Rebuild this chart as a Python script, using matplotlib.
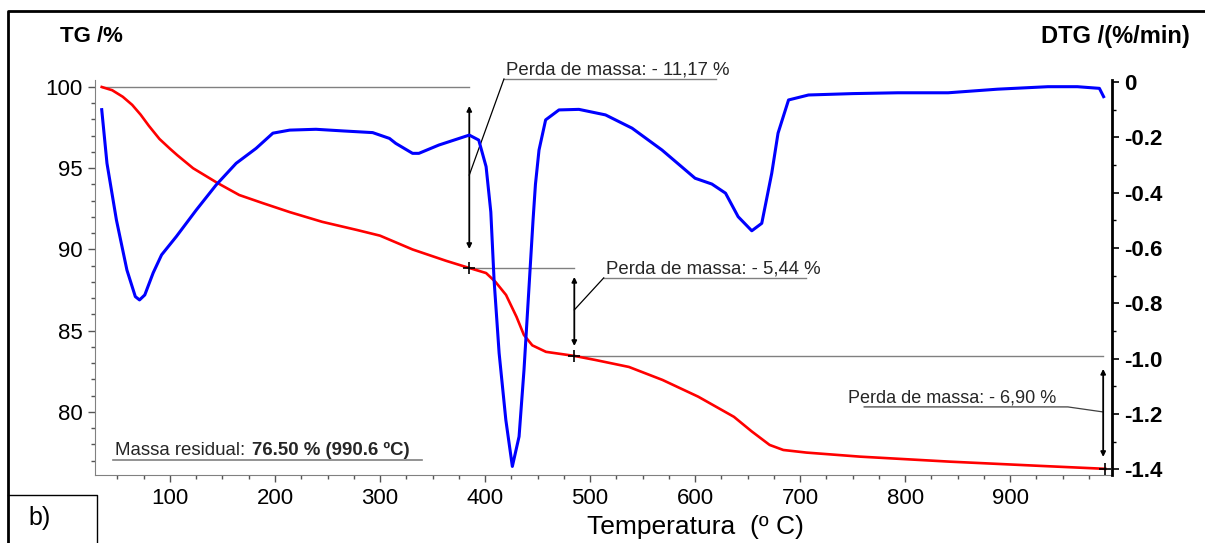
import numpy as np
import matplotlib
matplotlib.use("Agg")
from matplotlib import pyplot as plt
from matplotlib.lines import Line2D
from matplotlib.ticker import MultipleLocator, FuncFormatter

# TG curve (mass %, left axis)
tg_temp = [35, 45, 55, 64, 72, 80, 90, 100, 107, 122, 145, 166, 188, 214, 245, 278,
           300, 331, 363, 385, 401, 410, 420, 430, 437, 445, 458, 485, 505, 537,
           569, 603, 637, 654, 671, 684, 706, 757, 843, 929, 990.6]
tg_mass = [100.0, 99.8, 99.4, 98.9, 98.3, 97.6, 96.8, 96.2, 95.8, 95.0, 94.1, 93.35,
           92.86, 92.3, 91.7, 91.2, 90.85, 90.0, 89.3, 88.86, 88.55, 88.0, 87.2,
           85.85, 84.74, 84.1, 83.7, 83.45, 83.2, 82.77, 81.97, 80.94, 79.7, 78.8,
           77.97, 77.66, 77.5, 77.25, 76.94, 76.68, 76.50]

# DTG curve (%/min, right axis)
dtg_temp = [35, 40, 49, 59, 67, 71, 76, 84, 92, 106, 125, 144, 163, 182, 198, 214,
            239, 265, 293, 309, 315, 331, 337, 356, 385, 394, 401, 405.5, 408.6,
            413.4, 419.8, 426, 432.4, 437.1, 441.9, 445.7, 448, 451.4, 457.7, 470.4,
            489.4, 514.7, 540, 568.5, 600, 616, 629, 641, 654, 663.5, 673, 679, 689,
            708, 750, 793, 841, 888, 936, 964, 985, 989]
dtg_rate = [-0.10, -0.294, -0.499, -0.68, -0.776, -0.788, -0.77, -0.69, -0.625,
            -0.559, -0.463, -0.372, -0.294, -0.24, -0.185, -0.174, -0.171, -0.177,
            -0.183, -0.204, -0.222, -0.258, -0.258, -0.228, -0.192, -0.21, -0.306,
            -0.47, -0.716, -0.98, -1.222, -1.39, -1.282, -1.041, -0.74, -0.5, -0.37,
            -0.246, -0.137, -0.101, -0.099, -0.119, -0.167, -0.246, -0.348, -0.369,
            -0.402, -0.487, -0.538, -0.511, -0.33, -0.185, -0.065, -0.047, -0.042,
            -0.039, -0.039, -0.026, -0.017, -0.017, -0.023, -0.053]

# mass loss steps: temperatures bounding each step and labels
step_temps = [385, 485, 990.6]
step_labels = ['Perda de massa: - 11,17 %', 'Perda de massa: - 5,44 %', 'Perda de massa: - 6,90 %']

plt.rcParams['font.family'] = ['Liberation Sans', 'DejaVu Sans']
plt.rcParams['axes.unicode_minus'] = False

fig = plt.figure(figsize=(12.05, 5.43), dpi=100)
ax = fig.add_axes([95 / 1205, 1 - 475 / 543, (1112 - 95) / 1205, (475 - 80) / 543])
ax2 = ax.twinx()

ax.plot(tg_temp, tg_mass, color='#ff0000', lw=1.9, zorder=3)
ax2.plot(dtg_temp, dtg_rate, color='#0000ff', lw=2.2, zorder=3)

ax.set_xlim(28.6, 997)
ax.set_ylim(76.12, 100.43)
ax2.set_ylim(-1.421, 0.0072)

# axes styling
ax.spines['top'].set_visible(False)
ax2.spines['top'].set_visible(False)
ax.spines['left'].set_color('#808080')
ax.spines['bottom'].set_color('#808080')
ax.spines['right'].set_visible(False)
ax2.spines['left'].set_visible(False)
ax2.spines['bottom'].set_visible(False)
ax2.spines['right'].set_linewidth(2)
ax2.spines['right'].set_color('black')

ax.xaxis.set_minor_locator(MultipleLocator(25))
ax.set_xticks(np.arange(100, 1000, 100))
ax.yaxis.set_minor_locator(MultipleLocator(1))
ax.set_yticks([80, 85, 90, 95, 100])
ax2.yaxis.set_minor_locator(MultipleLocator(0.1))
ax2.set_yticks(np.arange(-1.4, 0.01, 0.2))
ax2.yaxis.set_major_formatter(FuncFormatter(lambda v, p: '0' if abs(v) < 1e-9 else f'{v:.1f}'))

ax.tick_params(axis='both', which='major', length=5, width=1, color='#555555', labelsize=16, pad=4)
ax.tick_params(axis='both', which='minor', length=3, width=1, color='#555555')
ax2.tick_params(axis='y', which='major', length=5, width=1.2, color='black', labelsize=16, pad=4)
ax2.tick_params(axis='y', which='minor', length=3, width=1, color='black')
for lab in ax2.get_yticklabels():
    lab.set_fontweight('bold')

# annotations on the TG curve
tg_at = np.interp(step_temps, tg_temp, tg_mass)
grey = '#808080'
ax.plot([tg_temp[0], step_temps[0]], [tg_mass[0], tg_mass[0]], color=grey, lw=1, zorder=2)
ax.plot([step_temps[0], step_temps[1]], [tg_at[0], tg_at[0]], color=grey, lw=1, zorder=2)
ax.plot([step_temps[1], step_temps[2] - 2], [tg_at[1], tg_at[1]], color=grey, lw=1, zorder=2)
ax.plot(step_temps, tg_at, ls='none', marker='+', ms=9, mew=1.2, color='black', zorder=4)

arrows = [(step_temps[0], 98.83, 90.03), (step_temps[1], 88.31, 84.06), (step_temps[2] - 2, 82.65, 77.23)]
for x, y0, y1 in arrows:
    ax.annotate('', xy=(x, y0), xytext=(x, y1),
                arrowprops=dict(arrowstyle='<|-|>', color='black', lw=1.3, mutation_scale=7, shrinkA=0, shrinkB=0))

txt_kw = dict(fontsize=13.4, color='#262626', va='baseline', ha='left')
# step 1
ax.plot([418, 620], [100.49, 100.49], color=grey, lw=1, clip_on=False)
ax.plot([418, step_temps[0]], [100.49, 94.58], color='black', lw=0.9, clip_on=False)
ax.text(420, 100.75, step_labels[0], clip_on=False, **txt_kw)
# step 2
ax.plot([513, 706], [88.25, 88.25], color=grey, lw=1)
ax.plot([513, step_temps[1]], [88.25, 86.28], color='black', lw=0.9)
ax.text(515, 88.5, step_labels[1], **txt_kw)
# step 3
ax.plot([761, 955, step_temps[2] - 2], [80.31, 80.31, 80.0], color='#404040', lw=0.9)
ax.text(746, 80.6, step_labels[2], fontsize=13, color='#262626', va='baseline', ha='left')

# residual mass
ax.plot([46, 340], [77.05, 77.05], color=grey, lw=1.2)
t1 = ax.text(48, 77.33, 'Massa residual:', fontsize=13.4, color='#262626', va='baseline', ha='left')
ax.annotate('76.50 % (990.6 ºC)', xy=(1, 0), xycoords=t1, xytext=(5, 0), textcoords='offset points',
            fontsize=13.4, fontweight='bold', color='#262626', va='bottom', ha='left')

# axis titles
fig.text(60 / 1205, 1 - 37 / 543, 'TG /%', fontsize=16, fontweight='bold', va='center', ha='left')
fig.text(1190 / 1205, 1 - 37 / 543, 'DTG /(%/min)', fontsize=17, fontweight='bold', va='center', ha='right')
fig.text(695 / 1205, 1 - 527 / 543, 'Temperatura  (º C)', fontsize=19, va='center', ha='center')

# frame around the panel and the "b)" box
def fline(xs, ys, lw=2):
    fig.add_artist(Line2D([x / 1205 for x in xs], [1 - y / 543 for y in ys], color='black', lw=lw))

fline([8, 8, 1204], [543, 11, 11])
fline([8, 97, 97], [495, 495, 543], lw=1)
fig.text(40 / 1205, 1 - 518 / 543, 'b)', fontsize=18, va='center', ha='center')

plt.savefig('out.png', dpi=100)
